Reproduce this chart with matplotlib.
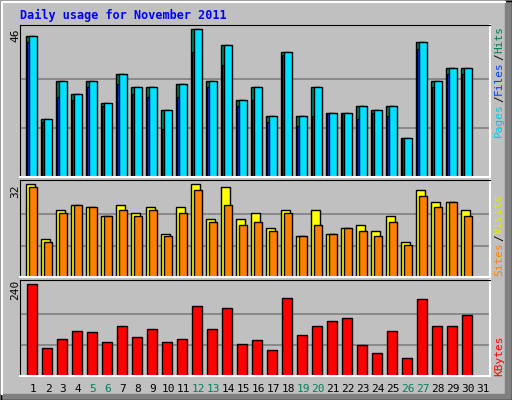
import matplotlib
matplotlib.use("Agg")
import matplotlib.pyplot as plt
from matplotlib.lines import Line2D
from matplotlib.patches import Rectangle
import numpy as np

days = list(range(1, 32))
hits = [44, 18, 30, 26, 30, 23, 32, 28, 28, 21, 29, 46, 30, 41, 24, 28, 19, 39, 19, 28, 20, 20, 22, 21, 22, 12, 42, 30, 34, 34]
files = hits
pages = [42, 17, 25, 24, 28, 22, 29, 26, 25, 15, 25, 39, 28, 35, 22, 24, 17, 38, 16, 19, 20, 20, 18, 20, 19, 12, 40, 28, 32, 32]
visits = [32, 13, 23, 25, 24, 21, 25, 22, 24, 15, 24, 32, 20, 31, 20, 22, 17, 23, 14, 23, 15, 17, 18, 16, 21, 12, 30, 26, 26, 23]
sites = [31, 12, 22, 25, 24, 21, 23, 21, 23, 14, 22, 30, 19, 25, 18, 19, 16, 22, 14, 18, 15, 17, 16, 14, 19, 11, 28, 24, 26, 21]
kbytes = [240, 74, 98, 119, 114, 88, 132, 103, 122, 88, 98, 182, 122, 177, 85, 95, 67, 203, 106, 130, 143, 153, 80, 59, 119, 46, 201, 132, 130, 159]
weekend = [5, 6, 12, 13, 19, 20, 26, 27]

W, H = 512, 400
BG = "#C0C0C0"
fig = plt.figure(figsize=(W/100, H/100), dpi=100, facecolor=BG)

def fx(x): return x / W
def fy(y): return 1 - y / H
def line(x0, y0, x1, y1, c, lw=1):
    fig.add_artist(Line2D([fx(x0), fx(x1)], [fy(y0), fy(y1)], color=c, lw=lw, transform=fig.transFigure))

# outer frame
fig.add_artist(Rectangle((fx(505), 0), fx(7), 1, color="#808080", transform=fig.transFigure))
fig.add_artist(Rectangle((0, 0), 1, 6/H, color="#808080", transform=fig.transFigure))
line(0.5, 0.5, 511.5, 0.5, "black"); line(0.5, 0.5, 0.5, 399.5, "black")
line(511.5, 0.5, 511.5, 399.5, "black"); line(0.5, 399.5, 511.5, 399.5, "black")
line(2, 2, 505, 2, "white", 1.5); line(2, 2, 2, 394, "white", 1.5)

fig.text(fx(20), fy(15), "Daily usage for November 2011", color="#0000FF",
         fontsize=8.5, fontweight="bold", family="DejaVu Sans Mono", va="center")

X0, X1 = 20, 490
xl = ((X0 - 18) / 15, (X0 - 18) / 15 + (X1 - X0) / 15)
d = np.arange(1, 31)

def panel(top, bot, ymax_px_top, vmax):
    ax = fig.add_axes([fx(X0), fy(bot), fx(X1) - fx(X0), (bot - top) / H])
    ax.set_facecolor(BG)
    ax.set_xlim(*xl)
    ylim = vmax * (bot - top) / (bot - ymax_px_top)
    ax.set_ylim(0, ylim)
    ax.set_xticks([]); ax.set_yticks([])
    for s in ("left", "top"):
        ax.spines[s].set_color("black")
    for s in ("right", "bottom"):
        ax.spines[s].set_color("white")
        ax.spines[s].set_linewidth(1.5)
    for f in (1/3, 2/3):
        ax.axhline(ylim * f * 0.97, color="#808080", lw=1.2, zorder=0)
    return ax

ax1 = panel(25, 177, 29.3, 46)
ax1.bar(d - 0.467, hits, width=0.55, align="edge", color="#00805C", edgecolor="black", lw=1)
ax1.bar(d - 0.38, pages, width=0.14, align="edge", color="#0040FF", edgecolor="black", lw=0.8)
ax1.bar(d - 0.25, files, width=0.5, align="edge", color="#00E0FF", edgecolor="black", lw=1)

ax2 = panel(180, 277, 184.3, 32)
ax2.bar(d - 0.45, visits, width=0.55, align="edge", color="#FFFF00", edgecolor="black", lw=1)
ax2.bar(d - 0.25, sites, width=0.5, align="edge", color="#FF8000", edgecolor="black", lw=1)

ax3 = panel(280, 376, 284.3, 240)
ax3.bar(d - 0.4, kbytes, width=0.67, align="edge", color="#FF0000", edgecolor="black", lw=1)

for yy, t in ((35, "46"), (191, "32"), (290, "240")):
    fig.text(fx(15), fy(yy), t, rotation=90, fontsize=8, family="DejaVu Sans Mono",
             ha="center", va="center")

for day in days:
    xp = 18 + day * 15
    fig.text(fx(xp), fy(389), str(day), fontsize=8, family="DejaVu Sans Mono",
             color="#00805C" if day in weekend else "black", ha="center", va="center")

def vlabel(parts, ybottom, step=6.7):
    y = ybottom
    for t, c in parts:
        fig.text(fx(499), fy(y), t, rotation=90, fontsize=8, family="DejaVu Sans Mono",
                 color=c, ha="center", va="bottom")
        y -= len(t) * step

vlabel([("Pages", "#00C8E0"), ("/", "black"), ("Files", "#0040FF"), ("/", "black"), ("Hits", "#00805C")], 137, 7.0)
vlabel([("Sites", "#FF8000"), ("/", "black"), ("Visits", "#E8E800")], 276, 7.0)
vlabel([("KBytes", "#FF0000")], 376, 7.0)

fig.savefig("out.png", dpi=100, facecolor=BG)
